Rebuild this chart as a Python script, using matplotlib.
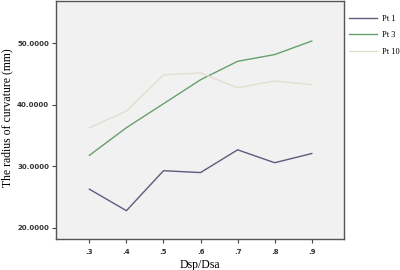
import matplotlib
matplotlib.use("Agg")
import matplotlib.pyplot as plt

ratio = [0.3, 0.4, 0.5, 0.6, 0.7, 0.8, 0.9]
xtick_labels = ['.3', '.4', '.5', '.6', '.7', '.8', '.9']
pt1 = [26.3, 22.8, 29.3, 29.0, 32.7, 30.6, 32.1]
pt3 = [31.8, 36.3, 40.2, 44.1, 47.1, 48.2, 50.4]
pt10 = [36.3, 39.0, 44.9, 45.2, 42.8, 43.9, 43.3]
yticks = [20, 30, 40, 50]

fig = plt.figure(figsize=(4, 2.7), dpi=100)
ax = fig.add_axes([0.14, 0.115, 0.72, 0.881])
ax.set_facecolor('#f1f1f1')

ax.plot(ratio, pt1, color='#5e5c7c', lw=1.0, label='Pt 1')
ax.plot(ratio, pt3, color='#65a06e', lw=1.0, label='Pt 3')
ax.plot(ratio, pt10, color='#e2dfcf', lw=1.0, label='Pt 10')

ax.set_xlim(0.21, 0.987)
ax.set_ylim(18.2, 56.9)
ax.set_xticks(ratio)
ax.set_xticklabels(xtick_labels)
ax.set_yticks(yticks)
ax.set_yticklabels(['%.4f' % v for v in yticks])
ax.tick_params(labelsize=5, length=3, width=0.8, color='#444444', pad=2)
ax.tick_params(axis='x', pad=4)
for lab in ax.get_xticklabels() + ax.get_yticklabels():
    lab.set_fontweight('bold')
    lab.set_color('#333333')
for s in ax.spines.values():
    s.set_color('#555555')
    s.set_linewidth(1.0)

ax.set_ylabel('The radius of curvature (mm)', family='Liberation Serif', fontsize=8.5)
ax.yaxis.set_label_coords(-0.15, 0.51)
ax.set_xlabel('Dsp/Dsa', family='Liberation Serif', fontsize=8.5)
ax.xaxis.set_label_coords(0.5, -0.085)

leg = ax.legend(loc='upper left', bbox_to_anchor=(349 / 400, 0.945), bbox_transform=fig.transFigure,
                frameon=False, borderpad=0, borderaxespad=0,
                prop={'family': 'Liberation Serif', 'size': 6},
                handlelength=3.3, handletextpad=0.6, labelspacing=1.0)

fig.savefig('out.png', dpi=100)
